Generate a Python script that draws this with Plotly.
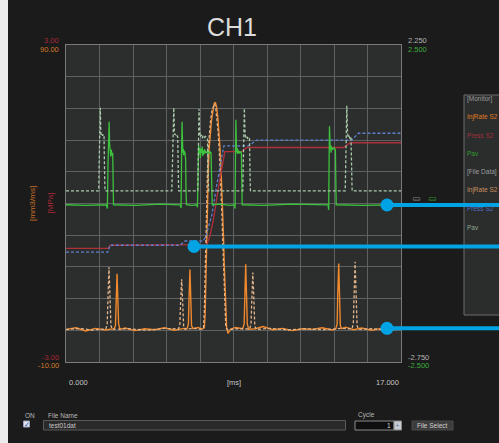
import plotly.graph_objects as go

# ---------------- data ----------------
# Pav (monitor)  [green, solid]  axis -2.5 .. 2.5
pav_mon_t = [0.0, 1.0, 2.05, 2.10, 2.13, 2.16, 2.19, 2.21, 2.23, 2.25, 2.27, 2.29, 2.31, 2.33, 2.35, 2.37, 2.39, 2.41,
             3.5, 4.8, 5.80, 5.84, 5.87, 5.89, 5.91, 5.93, 5.95, 5.97, 5.99, 6.01, 6.03, 6.05, 6.07, 6.09, 6.11,
             6.40, 6.64, 6.67, 6.70, 6.73, 6.76, 6.79, 6.82, 6.85, 6.88, 6.91, 6.94, 6.97, 7.00, 7.03, 7.06, 7.09,
             7.12, 7.15, 7.18, 7.21, 7.24, 7.27, 7.30, 7.33, 7.36, 7.39, 7.42,
             7.8, 8.3, 8.55, 8.58, 8.60, 8.62, 8.64, 8.66, 8.68, 8.70, 8.72, 8.74, 8.76, 8.78, 8.80, 8.82, 8.84,
             8.86, 8.88, 8.90, 8.92, 8.94,
             10.0, 11.5, 13.30, 13.33, 13.35, 13.37, 13.39, 13.41, 13.43, 13.45, 13.47, 13.49, 13.51, 13.53, 13.55,
             13.57, 13.59, 13.61, 13.63, 13.65, 13.67, 13.69, 13.71, 15.0, 17.0]
pav_mon_v = [-0.02, -0.03, -0.02, -0.08, 0.60, 1.05, 1.29, 0.95, 0.78, 0.88, 0.74, 0.85, 0.77, 0.83, 0.76, 0.80, 0.30, -0.02,
             -0.03, -0.01, -0.02, -0.07, 0.90, 1.29, 1.00, 0.80, 0.86, 0.76, 0.84, 0.78, 0.82, 0.75, 0.70, 0.20, -0.02,
             -0.03, -0.02, -0.06, 0.85, 0.92, 0.78, 0.88, 0.72, 0.86, 0.80, 0.90, 0.75, 0.84, 0.78, 0.86, 0.79, 0.83,
             0.80, 0.82, 0.79, 0.81, 0.80, 0.82, 0.79, 0.81, 0.80, 0.40, -0.02,
             -0.01, -0.03, -0.02, -0.08, 0.70, 1.32, 1.00, 0.82, 0.88, 0.78, 0.85, 0.80, 0.83, 0.79, 0.82, 0.80, 0.81,
             0.80, 0.82, 0.79, 0.35, -0.02,
             -0.03, -0.01, -0.02, -0.10, 0.60, 1.22, 1.05, 0.85, 0.92, 0.80, 0.90, 0.84, 0.88, 0.85, 0.87,
             0.86, 0.88, 0.86, 0.87, 0.86, 0.85, 0.40, -0.02, -0.03, -0.02]

# Pav (file data)  [grey-green, dashed]  axis -2.75 .. 2.25
pav_file_t = [0.0, 1.66, 1.69, 1.72, 1.74, 1.76, 1.78, 1.82, 1.86, 1.90, 1.93, 1.96, 1.98,
              5.37, 5.40, 5.44, 5.47, 5.50, 5.53, 5.58, 5.63, 5.67, 5.70, 5.72,
              6.69, 6.72, 6.75, 6.78, 6.81, 6.86, 6.91, 6.96, 7.01, 7.06, 7.12, 7.18, 7.21, 7.24,
              8.97, 9.00, 9.05, 9.08, 9.11, 9.16, 9.21, 9.26, 9.31, 9.34, 9.36,
              14.17, 14.20, 14.25, 14.28, 14.31, 14.36, 14.41, 14.46, 14.49, 14.52, 17.0]
pav_file_v = [-0.05, -0.05, 0.50, 1.00, 1.26, 0.95, 0.83, 0.85, 0.82, 0.84, 0.80, 0.20, -0.05,
              -0.05, 0.50, 1.00, 1.26, 0.90, 0.83, 0.85, 0.82, 0.80, 0.20, -0.05,
              -0.05, 0.60, 1.24, 0.92, 0.80, 0.83, 0.78, 0.82, 0.79, 0.81, 0.80, 0.78, 0.25, -0.05,
              -0.05, 0.60, 1.25, 0.90, 0.79, 0.81, 0.78, 0.80, 0.78, 0.20, -0.05,
              -0.05, 0.60, 1.29, 0.92, 0.79, 0.81, 0.78, 0.80, 0.25, -0.05, -0.05]

# Press S2 (monitor)  [red, solid]  axis -3 .. 3
press_mon_t = [0.0, 2.15, 2.25, 7.14, 7.30, 7.48, 7.75, 7.95, 8.06, 8.92, 9.17, 14.08, 14.42, 17.0]
press_mon_v = [-0.85, -0.85, -0.79, -0.78, -0.62, -0.31, 0.33, 0.78, 0.98, 0.98, 1.06, 1.06, 1.15, 1.15]

# Press S2 (file data)  [blue, dashed]  axis -3 .. 3
press_file_t = [0.0, 2.13, 2.23, 5.79, 6.04, 6.97, 7.10, 7.40, 7.65, 7.85, 8.01, 9.25, 9.68, 14.50, 14.84, 17.0]
press_file_v = [-0.92, -0.92, -0.79, -0.79, -0.71, -0.71, -0.62, -0.22, 0.35, 0.80, 1.09, 1.09, 1.20, 1.20, 1.33, 1.33]

# InjRate S2 (monitor)  [orange, solid]  axis -10 .. 90
inj_mon_t = [0.0, 0.5, 1.0, 1.5, 2.0, 2.44, 2.51, 2.54, 2.57, 2.59, 2.61, 2.64, 2.67, 2.74,
             3.0, 3.5, 4.0, 4.5, 5.0, 5.5, 6.0, 6.14, 6.21, 6.24, 6.27, 6.29, 6.31, 6.34, 6.37, 6.44,
             6.70, 6.90, 7.02, 7.06, 7.10, 7.14, 7.18, 7.22, 7.26, 7.31, 7.38, 7.45, 7.52, 7.58, 7.64, 7.70,
             7.76, 7.81, 7.86, 7.91, 7.95, 7.99, 8.03, 8.07, 8.11, 8.15, 8.22, 8.35, 8.60,
             8.97, 9.04, 9.07, 9.10, 9.12, 9.14, 9.17, 9.20, 9.27,
             9.6, 10.0, 10.5, 11.0, 11.5, 12.0, 12.5, 13.0, 13.5,
             13.69, 13.76, 13.79, 13.82, 13.84, 13.86, 13.89, 13.92, 13.99,
             14.2, 14.6, 15.0, 15.5, 16.0, 16.5, 17.0]
inj_mon_v = [0.3, 0.8, -0.2, 0.6, 0.1, 0.5, 1.5, 8.0, 15.0, 17.8, 14.0, 8.0, 2.0, 0.3,
             0.7, -0.1, 0.5, 0.2, 0.8, 0.0, 0.6, 0.5, 1.8, 9.0, 16.0, 19.2, 15.0, 7.0, 1.5, 0.5,
             0.9, 0.4, 0.8, 5.0, 18.0, 28.5, 40.0, 49.6, 57.0, 62.0, 66.0, 69.0, 71.5, 72.0, 70.5, 67.5,
             63.0, 58.0, 52.0, 45.0, 38.0, 30.0, 21.0, 12.0, 4.5, 1.0, -1.0, 0.3, 0.9,
             0.5, 2.0, 10.0, 17.0, 20.8, 16.0, 9.0, 2.0, 0.3,
             0.5, 1.2, 0.2, 0.6, -0.1, 0.5, 0.3, 0.8, 0.1,
             0.4, 2.0, 11.0, 18.0, 21.1, 16.0, 8.0, 1.5, 0.5,
             1.0, 0.2, 0.7, 0.0, 0.6, 0.2, 0.5]

# InjRate S2 (file data)  [tan, dashed]  axis -10 .. 90
inj_file_t = [0.0, 0.7, 1.3, 2.02, 2.09, 2.12, 2.15, 2.18, 2.21, 2.24, 2.28, 2.35,
              3.2, 4.1, 5.0, 5.71, 5.78, 5.81, 5.84, 5.87, 5.90, 5.93, 5.97, 6.04,
              6.50, 6.86, 6.98, 7.02, 7.06, 7.10, 7.14, 7.18, 7.22, 7.27, 7.34, 7.41, 7.48, 7.54, 7.60, 7.66,
              7.72, 7.77, 7.82, 7.87, 7.91, 7.95, 7.99, 8.03, 8.07, 8.11, 8.20, 8.7,
              9.32, 9.39, 9.42, 9.45, 9.48, 9.51, 9.54, 9.58, 9.65,
              10.4, 11.3, 12.2, 13.1, 14.0,
              14.51, 14.58, 14.61, 14.64, 14.67, 14.70, 14.73, 14.77, 14.84,
              15.5, 16.3, 17.0]
inj_file_v = [0.2, 0.6, 0.1, 0.4, 2.0, 9.0, 16.0, 19.9, 15.0, 7.0, 1.5, 0.3,
              0.5, 0.0, 0.6, 0.4, 2.0, 8.0, 13.5, 16.1, 12.0, 6.0, 1.2, 0.3,
              0.6, 0.3, 0.9, 6.0, 19.0, 30.0, 41.0, 50.5, 57.5, 62.5, 66.5, 69.5, 71.0, 71.5, 70.0, 67.0,
              62.5, 57.5, 51.5, 44.5, 37.0, 29.0, 20.0, 11.0, 4.0, 0.8, 0.2, 0.5,
              0.4, 2.0, 8.0, 15.0, 18.2, 14.0, 6.0, 1.3, 0.3,
              0.6, 0.1, 0.5, 0.2, 0.6,
              0.4, 2.0, 9.0, 17.0, 21.6, 16.0, 8.0, 1.5, 0.3,
              0.5, 0.1, 0.4]

# labels
title_text = "CH1"
left_top = ["3.00", "90.00"]
left_bottom = ["-3.00", "-10.00"]
right_top = ["2.250", "2.500"]
right_bottom = ["-2.750", "-2.500"]
x_labels = ["0.000", "[ms]", "17.000"]
legend_items = ["[Monitor]", "InjRate S2", "Press S2", "Pav", "[File Data]", "InjRate S2", "Press S2", "Pav"]

# ---------------- styling helpers ----------------
W, H = 499, 443
L, R, T, B = 66, 98, 45, 81
PW, PH = W - L - R, H - T - B


def PX(x):
    return (x - L) / PW


def PY(y):
    return (H - B - y) / PH


FONT = "Liberation Sans"
C_ORANGE = "#f0882c"
C_TAN = "#e2b48a"
C_GREEN = "#3cc23c"
C_GGREY = "#a9c9aa"
C_RED = "#b0303a"
C_BLUE = "#5f80d0"
C_CYAN = "#00a4e4"

fig = go.Figure()
fig.add_trace(go.Scatter(x=pav_file_t, y=pav_file_v, yaxis="y4", mode="lines",
                         line=dict(color=C_GGREY, width=1.3, dash="3px,2px")))
fig.add_trace(go.Scatter(x=pav_mon_t, y=pav_mon_v, yaxis="y3", mode="lines",
                         line=dict(color=C_GREEN, width=1.3)))
fig.add_trace(go.Scatter(x=press_mon_t, y=press_mon_v, yaxis="y2", mode="lines",
                         line=dict(color=C_RED, width=1.3)))
fig.add_trace(go.Scatter(x=press_file_t, y=press_file_v, yaxis="y2", mode="lines",
                         line=dict(color=C_BLUE, width=1.3, dash="3px,2px")))
fig.add_trace(go.Scatter(x=inj_mon_t, y=inj_mon_v, yaxis="y", mode="lines",
                         line=dict(color=C_ORANGE, width=1.4)))
fig.add_trace(go.Scatter(x=inj_file_t, y=inj_file_v, yaxis="y", mode="lines",
                         line=dict(color=C_TAN, width=1.3, dash="3px,2px")))

shapes = []
# left light strip
shapes.append(dict(type="rect", xref="paper", yref="paper", x0=PX(0), x1=PX(8), y0=PY(H), y1=PY(0),
                   fillcolor="#ececec", line=dict(width=0), layer="below"))
# legend panel
shapes.append(dict(type="rect", xref="paper", yref="paper", x0=PX(464), x1=PX(520), y0=PY(315), y1=PY(95),
                   fillcolor="#2b2c2c", line=dict(color="#6c6c6c", width=1)))
# cursor lines
for cx, cy in [(387, 205), (194, 246.5), (387, 328.3)]:
    shapes.append(dict(type="line", xref="paper", yref="paper", x0=PX(cx), x1=PX(505), y0=PY(cy), y1=PY(cy),
                       line=dict(color=C_CYAN, width=4)))
    shapes.append(dict(type="circle", xref="paper", yref="paper", x0=PX(cx - 6.5), x1=PX(cx + 6.5),
                       y0=PY(cy + 6.5), y1=PY(cy - 6.5), fillcolor=C_CYAN, line=dict(width=0)))
# bottom UI
shapes.append(dict(type="rect", xref="paper", yref="paper", x0=PX(23.5), x1=PX(29.5), y0=PY(427), y1=PY(421),
                   fillcolor="#dfe4ee", line=dict(color="#9aa4b8", width=1)))
shapes.append(dict(type="rect", xref="paper", yref="paper", x0=PX(43.5), x1=PX(345.5), y0=PY(430), y1=PY(420.5),
                   fillcolor="#2a2a2a", line=dict(color="#5a5a5a", width=1)))
shapes.append(dict(type="rect", xref="paper", yref="paper", x0=PX(355), x1=PX(394), y0=PY(430), y1=PY(421),
                   fillcolor="#0e0e0e", line=dict(color="#8a8a8a", width=1)))
shapes.append(dict(type="rect", xref="paper", yref="paper", x0=PX(394), x1=PX(401.5), y0=PY(430), y1=PY(421),
                   fillcolor="#c9ccd2", line=dict(color="#8a8a8a", width=1)))
shapes.append(dict(type="rect", xref="paper", yref="paper", x0=PX(412), x1=PX(453), y0=PY(430), y1=PY(421),
                   fillcolor="#3c3c3c", line=dict(color="#4a4a4a", width=1)))

ann = []


def text(x, y, s, color, size=7.5, xanchor="left", angle=0):
    ann.append(dict(xref="paper", yref="paper", x=PX(x), y=PY(y), text=s, showarrow=False,
                    xanchor=xanchor, yanchor="middle", textangle=angle,
                    font=dict(family=FONT, size=size, color=color)))


# title
ann.append(dict(xref="paper", yref="paper", x=PX(231.5), y=PY(27.5), text=title_text, showarrow=False,
                xanchor="center", yanchor="middle", font=dict(family=FONT, size=25, color="#dcdcdc")))
# axis extreme labels
text(60.5, 40.5, left_top[0], "#a8283a", xanchor="right")
text(60.5, 49.5, left_top[1], "#d27a2a", xanchor="right")
text(60.5, 357.3, left_bottom[0], "#a8283a", xanchor="right")
text(60.5, 365.7, left_bottom[1], "#d27a2a", xanchor="right")
text(406.5, 40.5, right_top[0], "#b4b4b4")
text(406.5, 49.5, right_top[1], "#3cab3c")
text(406.5, 357.3, right_bottom[0], "#b4b4b4")
text(406.5, 365.7, right_bottom[1], "#3cab3c")
text(66.5, 382.5, x_labels[0], "#c4c4c4")
text(233.5, 382.5, x_labels[1], "#c4c4c4", xanchor="center")
text(401, 382.5, x_labels[2], "#c4c4c4", xanchor="right")
# axis units (rotated)
ann.append(dict(xref="paper", yref="paper", x=PX(32.5), y=PY(203.5), text="[mm3/ms]", showarrow=False,
                textangle=-90, xanchor="center", yanchor="middle",
                font=dict(family=FONT, size=8, color="#c8702a")))
ann.append(dict(xref="paper", yref="paper", x=PX(49.5), y=PY(203), text="[MPa]", showarrow=False,
                textangle=-90, xanchor="center", yanchor="middle",
                font=dict(family=FONT, size=8, color="#a8283a")))
ann.append(dict(xref="paper", yref="paper", x=PX(417), y=PY(199), text="[]", showarrow=False,
                textangle=90, xanchor="center", yanchor="middle",
                font=dict(family=FONT, size=7, color="#8a8a8a")))
ann.append(dict(xref="paper", yref="paper", x=PX(433), y=PY(199), text="[]", showarrow=False,
                textangle=90, xanchor="center", yanchor="middle",
                font=dict(family=FONT, size=7, color="#2f9a2f")))
# legend panel text
leg_colors = ["#9c9c9c", "#e07c22", "#a0303a", "#2f9f2f", "#9c9c9c", "#c8905e", "#4f6fc0", "#8ea88e"]
leg_y = [99, 117, 135, 153, 172, 190, 208, 227]
for s, c, y in zip(legend_items, leg_colors, leg_y):
    text(465, y, s, c, size=6.5)
# bottom UI texts
text(22.5, 415, "ON", "#b8b8b8", size=6.5)
text(26.5, 424, "✓", "#3050b0", size=7, xanchor="center")
text(45.5, 415, "File Name", "#b8b8b8", size=6.5)
text(47, 425.3, "test01dat", "#c8c8c8", size=6.5)
text(355.5, 415, "Cycle", "#b8b8b8", size=6.5)
text(392.5, 425.5, "1", "#d8d8d8", size=6.5, xanchor="right")
text(397.8, 425.5, "+", "#6f86b0", size=8, xanchor="center")
text(432.5, 425.5, "File Select", "#d0d0d0", size=6.5, xanchor="center")

GRID = "#5e6161"
fig.update_layout(
    width=W, height=H, autosize=False,
    margin=dict(l=L, r=R, t=T, b=B, pad=0),
    paper_bgcolor="#1b1b1b", plot_bgcolor="#2c2e2e",
    showlegend=False,
    xaxis=dict(range=[0, 17], tick0=0, dtick=1.7, showgrid=True, gridcolor=GRID, gridwidth=1,
               zeroline=False, showticklabels=False, ticks="", showline=True, mirror=True,
               linecolor="#7a7a7a", linewidth=1),
    yaxis=dict(range=[-10, 90], tick0=-10, dtick=10, showgrid=True, gridcolor=GRID, gridwidth=1,
               zeroline=False, showticklabels=False, ticks="", showline=True, mirror=True,
               linecolor="#7a7a7a", linewidth=1),
    yaxis2=dict(range=[-3, 3], overlaying="y", visible=False),
    yaxis3=dict(range=[-2.5, 2.5], overlaying="y", visible=False),
    yaxis4=dict(range=[-2.75, 2.25], overlaying="y", visible=False),
    shapes=shapes, annotations=ann,
)

fig.write_html("out.html", config={"displayModeBar": False, "staticPlot": True},
               post_script="document.body.style.margin='0';document.body.style.overflow='hidden';"
                           "document.body.style.background='#1b1b1b';")
